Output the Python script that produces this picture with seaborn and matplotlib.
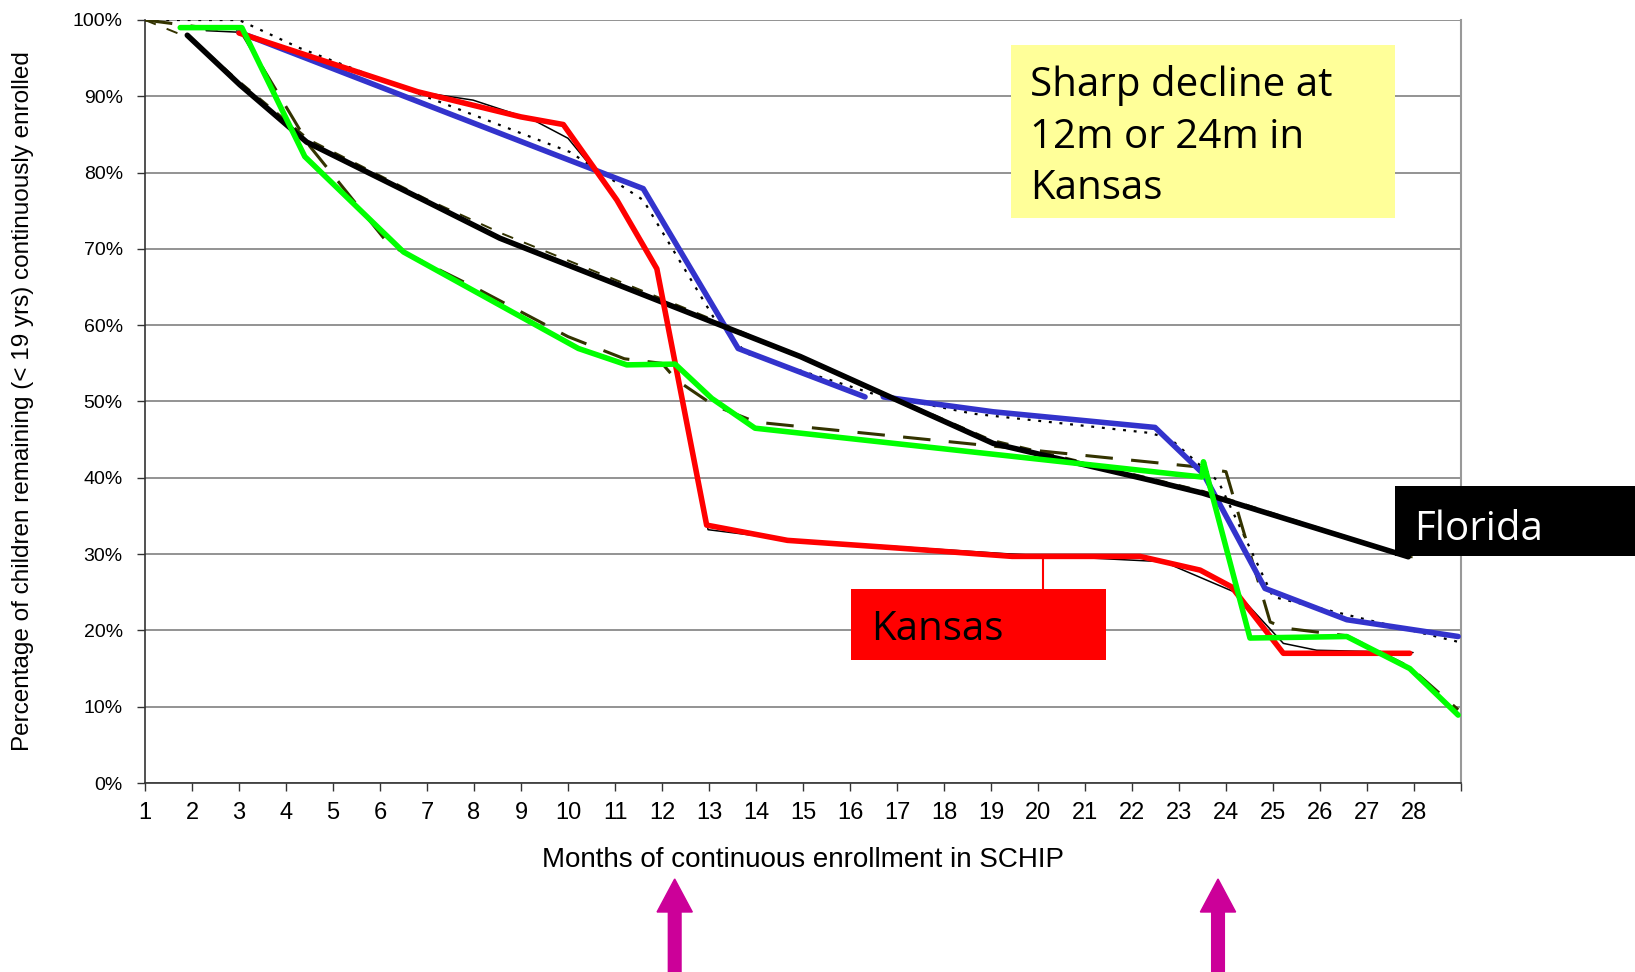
import matplotlib
matplotlib.use("Agg")
import matplotlib.pyplot as plt
from matplotlib.patches import Rectangle, FancyArrow
from matplotlib.transforms import blended_transform_factory
import numpy as np
import seaborn as sns

# ---- data (month, % still enrolled) ----
# Kansas, thick red line
kansas_x = [3.0, 6.8, 9.0, 9.9, 11.04, 11.89, 12.95, 14.67, 17.0, 19.45, 22.17, 23.45, 24.12, 25.22, 27.91]
kansas_y = [98.3, 90.6, 87.3, 86.3, 76.4, 67.4, 33.8, 31.8, 30.8, 29.7, 29.7, 27.9, 25.7, 17.0, 17.0]
# thin black line following Kansas
kansas_thin_x = [2.3, 3.0, 6.8, 7.98, 9.26, 10.0, 11.0, 11.9, 12.98, 14.67, 19.45, 22.67, 24.23, 25.22, 25.93, 27.98]
kansas_thin_y = [98.6, 98.4, 90.6, 89.5, 86.9, 84.5, 77.0, 67.4, 33.2, 31.9, 30.0, 29.0, 24.9, 18.3, 17.4, 17.1]

# blue line (gap between 16.3 and 16.7 months)
blue_x = [3.0, 9.83, 11.6, 13.62, 16.32, np.nan, 16.71, 19.05, 22.49, 23.52, 24.83, 26.57, 28.94]
blue_y = [98.4, 82.1, 77.9, 56.95, 50.6, np.nan, 50.6, 48.65, 46.6, 40.5, 25.5, 21.4, 19.2]
# dotted line following blue
blue_thin_x = [1.0, 3.0, 4.3, 10.04, 11.6, 13.09, 13.8, 16.5, 18.62, 22.35, 22.8, 23.84, 25.0, 28.94]
blue_thin_y = [100.0, 100.0, 96.3, 82.7, 76.4, 61.1, 56.3, 51.0, 48.4, 45.9, 45.2, 39.5, 24.4, 18.5]

# green line
green_x = [1.75, 3.06, 4.4, 6.5, 10.22, 11.25, 12.28, 13.06, 13.98, 23.49, 23.52, 24.51, 26.57, 27.91, 28.94]
green_y = [99.0, 99.0, 82.1, 69.6, 56.95, 54.8, 54.9, 50.4, 46.5, 40.1, 42.1, 19.0, 19.2, 15.0, 8.9]
# dashed line following green
green_thin_x = [1.0, 2.0, 3.05, 4.5, 6.2, 8.0, 10.0, 11.2, 12.0, 12.31, 13.1, 14.0, 23.44, 24.0, 24.94, 25.25, 26.57, 27.91, 28.94]
green_thin_y = [100.0, 99.2, 98.4, 83.5, 70.5, 65.0, 58.5, 55.6, 55.0, 52.8, 49.5, 47.3, 41.4, 40.8, 21.1, 20.3, 19.3, 15.2, 9.6]

# Florida, thick black line
florida_x = [1.9, 3.02, 4.44, 7.06, 8.55, 13.33, 14.94, 19.05, 22.38, 23.5, 27.88]
florida_y = [98.0, 91.5, 84.0, 76.0, 71.4, 59.8, 55.9, 44.5, 39.7, 38.0, 29.65]
# dashed line following Florida
florida_thin_x = [1.0, 2.0, 3.0, 4.5, 7.0, 8.6, 13.3, 19.0, 23.5, 28.0]
florida_thin_y = [100.0, 97.5, 92.0, 84.3, 76.5, 72.0, 60.2, 45.0, 38.3, 29.5]

month_ticks = list(range(1, 30))
month_labels = [str(m) for m in range(1, 29)] + [""]
pct_ticks = list(range(0, 101, 10))
pct_labels = [f"{p}%" for p in pct_ticks]

note_lines = ["Sharp decline at", "12m or 24m in", "Kansas"]
arrow_months = [12.27, 23.83]

sns.set_style("white")
plt.rcParams['font.family'] = ['Liberation Sans', 'DejaVu Sans']

fig = plt.figure(figsize=(16.35, 9.72), dpi=100)
ax = fig.add_axes([145 / 1635, 1 - 783 / 972, 1316 / 1635, 763 / 972])


def draw(x, y, **kw):
    x = np.asarray(x, float)
    y = np.asarray(y, float)
    cuts = np.where(np.isnan(x))[0]
    for sx, sy in zip(np.split(x, cuts), np.split(y, cuts)):
        ok = ~np.isnan(sx)
        sns.lineplot(x=sx[ok], y=sy[ok], ax=ax, sort=False, estimator=None, **kw)


olive = '#333300'
# thin companion lines
draw(kansas_thin_x, kansas_thin_y, color='black', linewidth=1.1, zorder=3)
draw(blue_thin_x, blue_thin_y, color='black', linewidth=1.6, linestyle=(0, (1.3, 3.5)), zorder=3)
draw(green_thin_x, green_thin_y, color=olive, linewidth=2.2, linestyle=(0, (9, 6)), zorder=3)
draw(florida_thin_x, florida_thin_y, color=olive, linewidth=1.4, linestyle=(0, (6, 6)), zorder=3)

# thick lines
draw(blue_x, blue_y, color='#3333CC', linewidth=4, zorder=4)
draw(florida_x, florida_y, color='black', linewidth=4, zorder=4)
draw(kansas_x, kansas_y, color='#FF0000', linewidth=4, zorder=4)
draw(green_x, green_y, color='#00FF00', linewidth=4, zorder=4)

ax.set_xlim(1, 29)
ax.set_ylim(0, 100)
ax.set_xticks(month_ticks)
ax.set_xticklabels(month_labels, fontsize=17)
ax.set_yticks(pct_ticks)
ax.set_yticklabels(pct_labels, fontsize=14)
ax.tick_params(axis='both', direction='out', length=6, width=1, color='#333333',
               labelcolor='black', bottom=True, left=True)
ax.tick_params(axis='x', pad=8)
ax.tick_params(axis='y', pad=10)
ax.grid(axis='y', color='#808080', linewidth=1.2)
ax.set_axisbelow(True)
ax.spines['top'].set_visible(False)
ax.spines['right'].set_color('#999999')
ax.spines['right'].set_linewidth(1.5)
for side in ['left', 'bottom']:
    ax.spines[side].set_color('#333333')
    ax.spines[side].set_linewidth(1.2)

ax.set_xlabel("Months of continuous enrollment in SCHIP", fontsize=20, color='black')
ax.xaxis.set_label_coords(0.5, -0.101)
ax.xaxis.label.set_va('center')
ax.set_ylabel("Percentage of children remaining (< 19 yrs) continuously enrolled", fontsize=17.5,
              color='black')
ax.yaxis.set_label_coords(-0.0927, 0.5)
ax.yaxis.label.set_va('center')

box_font = dict(family=['Open Sans', 'DejaVu Sans'], fontsize=29)

# yellow note
ax.add_patch(Rectangle((19.43, 74.0), 8.17, 22.7, facecolor='#FFFF99', edgecolor='none', zorder=6))
for line, base in zip(note_lines, [90.1, 83.2, 76.6]):
    ax.text(19.83, base, line, color='black', va='baseline', ha='left', zorder=7, **box_font)

# Kansas label
ax.plot([20.1, 20.1], [29.7, 25.4], color='#FF0000', linewidth=1.5, zorder=5)
ax.add_patch(Rectangle((16.02, 16.1), 5.43, 9.3, facecolor='#FF0000', edgecolor='none', zorder=6))
ax.text(16.45, 18.7, "Kansas", color='black', va='baseline', ha='left', zorder=7, **box_font)

# Florida label
ax.add_patch(Rectangle((27.6, 29.7), 6.0, 9.2, facecolor='black', edgecolor='none', zorder=6,
                       clip_on=False))
ax.text(28.0, 31.8, "Florida", color='white', va='baseline', ha='left', zorder=7,
        clip_on=False, **box_font)

# magenta arrows under the axis
trans = blended_transform_factory(ax.transData, fig.transFigure)
tip = 1 - 879 / 972
for m in arrow_months:
    arr = FancyArrow(m, -0.02, 0, tip + 0.02, width=0.27, head_width=0.75,
                     head_length=33 / 972, length_includes_head=True,
                     color='#CC0099', transform=trans)
    fig.add_artist(arr)

fig.savefig("out.png", dpi=100)
